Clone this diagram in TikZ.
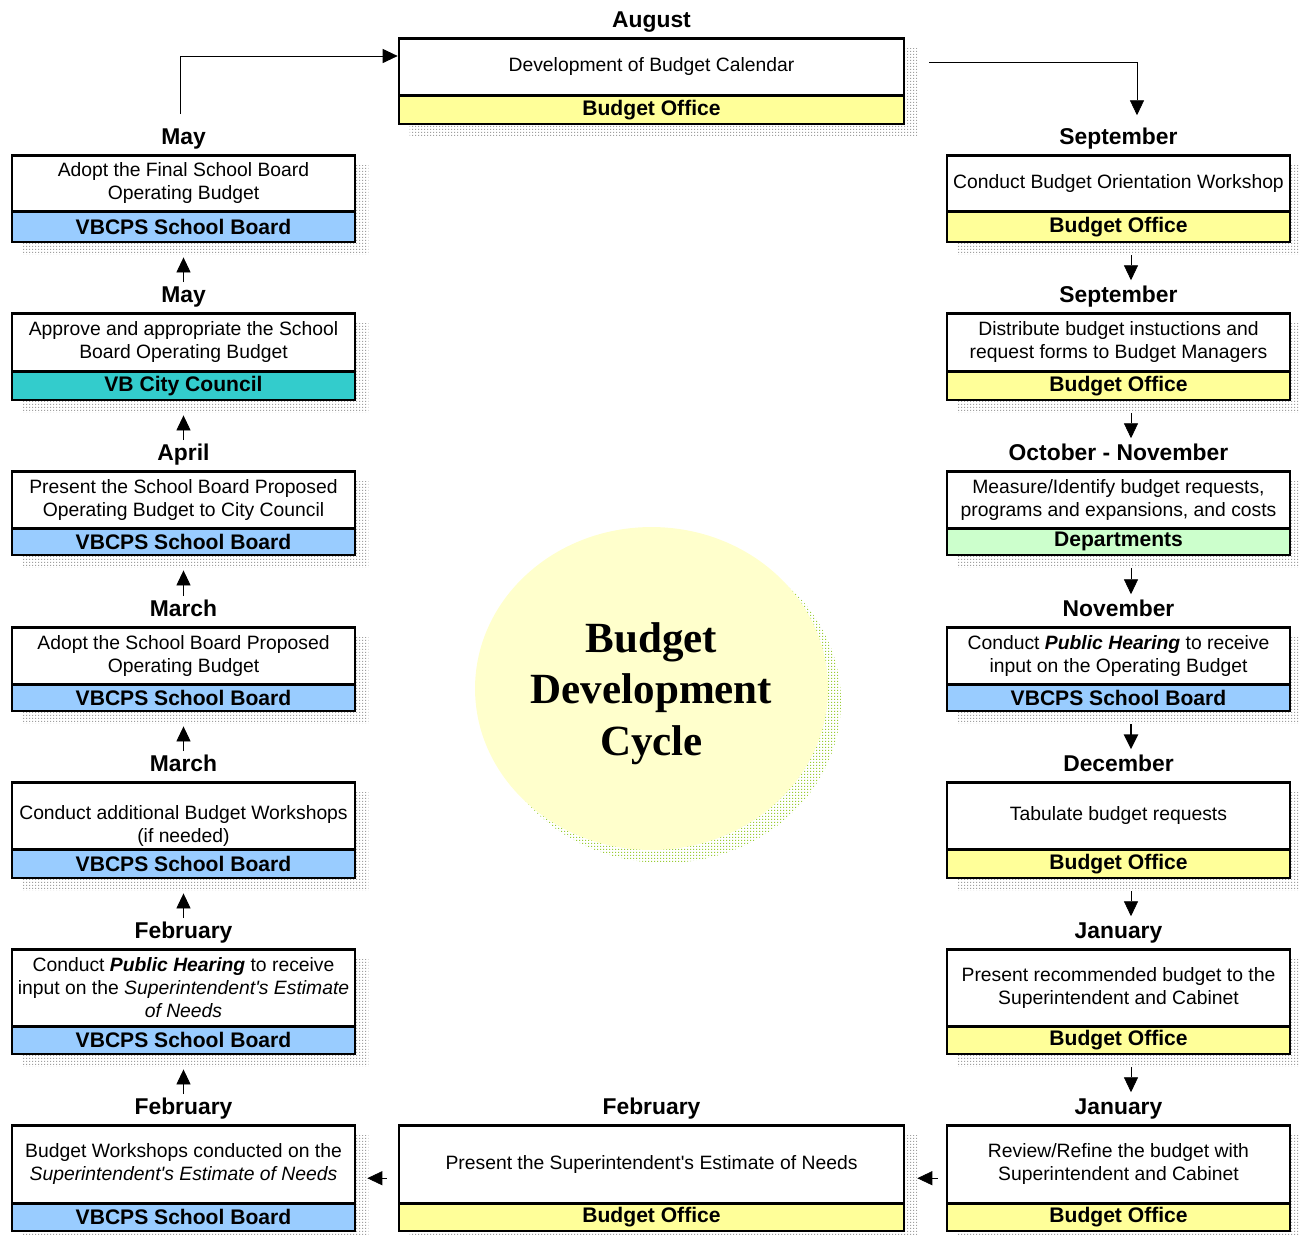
\documentclass[tikz,border=0pt]{standalone}
\usepackage{fontspec}
\setmainfont{Liberation Sans}
\newfontfamily\titlefont{Liberation Serif}
\usepackage{tikz}
\usetikzlibrary{shapes,shapes.multipart,shapes.geometric,arrows.meta,positioning,patterns}

\definecolor{officeyellow}{RGB}{255,255,153}
\definecolor{boardblue}{RGB}{153,204,255}
\definecolor{councilteal}{RGB}{51,204,204}
\definecolor{deptgreen}{RGB}{204,255,204}
\definecolor{hubcream}{RGB}{255,255,204}
\definecolor{hubdots}{RGB}{153,204,51}

% fine dot raster for the drop shadows
\pgfdeclarepatternformonly{finedots}{\pgfqpoint{0pt}{0pt}}{\pgfqpoint{1.7pt}{1.7pt}}{\pgfqpoint{1.7pt}{1.7pt}}%
{\pgfpathrectangle{\pgfqpoint{0pt}{0pt}}{\pgfqpoint{0.6pt}{0.6pt}}\pgfusepath{fill}}

\pgfdeclarelayer{background}
\pgfsetlayers{background,main}

% one part of a box: fixed width and height, centred text
\newcommand{\boxcell}[3]{\parbox[c][#2][c]{#1}{\centering #3}}
\newcommand{\bandtext}[1]{{\fontsize{12}{14}\selectfont\bfseries #1}}
\newlength{\sidew}\setlength{\sidew}{6.86cm}
\newlength{\midw}\setlength{\midw}{10.1cm}

\begin{document}
\begin{tikzpicture}[->, >={Triangle[width=8pt,length=8.5pt]}, line width=1.1pt, x=0.02cm, y=-0.02cm]

\tikzstyle{stepbox}=[
    rectangle split,
    rectangle split parts=2,
    draw=black,
    line width=1.6pt,
    inner sep=0pt,
    anchor=north,
    font=\fontsize{11}{13}\selectfont
]
\tikzstyle{office}=[rectangle split part fill={white,officeyellow}]
\tikzstyle{board}=[rectangle split part fill={white,boardblue}]
\tikzstyle{council}=[rectangle split part fill={white,councilteal}]
\tikzstyle{depts}=[rectangle split part fill={white,deptgreen}]
\tikzstyle{month}=[inner sep=0pt, text height=9.3pt, text depth=0pt, font=\fontsize{13}{15}\selectfont\bfseries]
\tikzstyle{hub}=[ellipse, fill=hubcream, minimum width=7.06cm, minimum height=6.46cm, inner sep=0pt]
\tikzstyle{hubtext}=[align=center, inner sep=0pt, font=\titlefont\fontsize{24.5}{29.2}\selectfont\bfseries]
\tikzstyle{dotshadow}=[pattern=finedots, pattern color=gray!75]
\tikzstyle{hubshadow}=[pattern=finedots, pattern color=hubdots]
\tikzstyle{flowdown}=[shorten <=0.24cm, shorten >=0.1cm]
\tikzstyle{flowup}=[shorten <=0.06cm, shorten >=0.28cm]

\useasboundingbox (0,0) rectangle (1299,1235);

% centre
\node[hub] (Hub) at (651.5,688.5) {};
\node[hubtext] (Title) at ([yshift=-0.1cm]Hub.center) {Budget\\Development\\Cycle};

% top
\node[stepbox, office] (Aug) at (651.5,37)
    {\boxcell{\midw}{1.08cm}{Development of Budget Calendar}
     \nodepart{two}\boxcell{\midw}{0.52cm}{\bandtext{Budget Office}}};

% right column
\node[stepbox, office] (Sep_1) at (1118.5,154)
    {\boxcell{\sidew}{1.06cm}{Conduct Budget Orientation Workshop}
     \nodepart{two}\boxcell{\sidew}{0.56cm}{\bandtext{Budget Office}}};
\node[stepbox, office] (Sep_2) at (1118.5,312)
    {\boxcell{\sidew}{1.1cm}{Distribute budget instuctions and\\request forms to Budget Managers}
     \nodepart{two}\boxcell{\sidew}{0.52cm}{\bandtext{Budget Office}}};
\node[stepbox, depts] (Oct) at (1118.5,470)
    {\boxcell{\sidew}{1.08cm}{Measure/Identify budget requests,\\programs and expansions, and costs}
     \nodepart{two}\boxcell{\sidew}{0.48cm}{\bandtext{Departments}}};
\node[stepbox, board] (Nov) at (1118.5,626)
    {\boxcell{\sidew}{1.08cm}{Conduct \textbf{\textit{Public Hearing}} to receive\\input on the Operating Budget}
     \nodepart{two}\boxcell{\sidew}{0.48cm}{\bandtext{VBCPS School Board}}};
\node[stepbox, office] (Dec) at (1118.5,781)
    {\boxcell{\sidew}{1.28cm}{Tabulate budget requests}
     \nodepart{two}\boxcell{\sidew}{0.52cm}{\bandtext{Budget Office}}};
\node[stepbox, office] (Jan_1) at (1118.5,948)
    {\boxcell{\sidew}{1.48cm}{Present recommended budget to the\\Superintendent and Cabinet}
     \nodepart{two}\boxcell{\sidew}{0.5cm}{\bandtext{Budget Office}}};
\node[stepbox, office] (Jan_2) at (1118.5,1124)
    {\boxcell{\sidew}{1.5cm}{Review/Refine the budget with\\Superintendent and Cabinet}
     \nodepart{two}\boxcell{\sidew}{0.5cm}{\bandtext{Budget Office}}};

% bottom
\node[stepbox, office] (Feb_0) at (651.5,1124)
    {\boxcell{\midw}{1.5cm}{Present the Superintendent\textquotesingle s Estimate of Needs}
     \nodepart{two}\boxcell{\midw}{0.5cm}{\bandtext{Budget Office}}};

% left column
\node[stepbox, board] (Feb_1) at (183.5,1124)
    {\boxcell{\sidew}{1.5cm}{Budget Workshops conducted on the\\\textit{Superintendent\textquotesingle s Estimate of Needs}}
     \nodepart{two}\boxcell{\sidew}{0.5cm}{\bandtext{VBCPS School Board}}};
\node[stepbox, board] (Feb_2) at (183.5,948)
    {\boxcell{\sidew}{1.48cm}{Conduct \textbf{\textit{Public Hearing}} to receive\\input on the \textit{Superintendent\textquotesingle s Estimate}\\\textit{of Needs}}
     \nodepart{two}\boxcell{\sidew}{0.5cm}{\bandtext{VBCPS School Board}}};
\node[stepbox, board] (Mar_1) at (183.5,781)
    {\boxcell{\sidew}{1.28cm}{\vspace*{0.4cm}Conduct additional Budget Workshops\\(if needed)}
     \nodepart{two}\boxcell{\sidew}{0.52cm}{\bandtext{VBCPS School Board}}};
\node[stepbox, board] (Mar_2) at (183.5,626)
    {\boxcell{\sidew}{1.08cm}{Adopt the School Board Proposed\\Operating Budget}
     \nodepart{two}\boxcell{\sidew}{0.48cm}{\bandtext{VBCPS School Board}}};
\node[stepbox, board] (Apr) at (183.5,470)
    {\boxcell{\sidew}{1.08cm}{Present the School Board Proposed\\Operating Budget to City Council}
     \nodepart{two}\boxcell{\sidew}{0.48cm}{\bandtext{VBCPS School Board}}};
\node[stepbox, council] (May_1) at (183.5,312)
    {\boxcell{\sidew}{1.1cm}{Approve and appropriate the School\\Board Operating Budget}
     \nodepart{two}\boxcell{\sidew}{0.52cm}{\bandtext{VB City Council}}};
\node[stepbox, board] (May_2) at (183.5,154)
    {\boxcell{\sidew}{1.06cm}{Adopt the Final School Board\\Operating Budget}
     \nodepart{two}\boxcell{\sidew}{0.56cm}{\bandtext{VBCPS School Board}}};

% month headings
\node[month, above=0.17cm of Aug] (Aug_m) {August};
\node[month, above=0.17cm of Sep_1] (Sep_1_m) {September};
\node[month, above=0.17cm of Sep_2] (Sep_2_m) {September};
\node[month, above=0.17cm of Oct] (Oct_m) {October - November};
\node[month, above=0.17cm of Nov] (Nov_m) {November};
\node[month, above=0.17cm of Dec] (Dec_m) {December};
\node[month, above=0.17cm of Jan_1] (Jan_1_m) {January};
\node[month, above=0.17cm of Jan_2] (Jan_2_m) {January};
\node[month, above=0.17cm of Feb_0] (Feb_0_m) {February};
\node[month, above=0.17cm of Feb_1] (Feb_1_m) {February};
\node[month, above=0.17cm of Feb_2] (Feb_2_m) {February};
\node[month, above=0.17cm of Mar_1] (Mar_1_m) {March};
\node[month, above=0.17cm of Mar_2] (Mar_2_m) {March};
\node[month, above=0.17cm of Apr] (Apr_m) {April};
\node[month, above=0.17cm of May_1] (May_1_m) {May};
\node[month, above=0.17cm of May_2] (May_2_m) {May};

% shadows behind everything
\begin{pgfonlayer}{background}
\foreach \nd in {Aug,Sep_1,Sep_2,Oct,Nov,Dec,Jan_1,Jan_2,Feb_0,Feb_1,Feb_2,Mar_1,Mar_2,Apr,May_1,May_2}
    \fill[dotshadow] ([shift={(0.24cm,-0.22cm)}]\nd.north west) rectangle ([shift={(0.24cm,-0.22cm)}]\nd.south east);
\fill[hubshadow] ([shift={(0.26cm,-0.26cm)}]Hub.center) ellipse [x radius=3.53cm, y radius=3.23cm];
\end{pgfonlayer}

% the cycle
\draw[shorten >=0.24cm] ([shift={(0.48cm,-0.5cm)}]Aug.north east) -| ([xshift=0.37cm]Sep_1_m.north);
\draw[shorten <=0.26cm] ([xshift=-0.07cm]May_2_m.north) |- ([yshift=-0.38cm]Aug.north west);

\path
([xshift=0.25cm]Sep_1.south) edge[flowdown] ([xshift=0.25cm]Sep_2_m.north)
([xshift=0.25cm]Sep_2.south) edge[flowdown] ([xshift=0.25cm]Oct_m.north)
([xshift=0.25cm]Oct.south) edge[flowdown] ([xshift=0.25cm]Nov_m.north)
([xshift=0.25cm]Nov.south) edge[flowdown, line width=1.6pt] ([xshift=0.25cm]Dec_m.north)
([xshift=0.25cm]Dec.south) edge[flowdown] ([xshift=0.25cm]Jan_1_m.north)
([xshift=0.25cm]Jan_1.south) edge[flowdown] ([xshift=0.25cm]Jan_2_m.north)
(Jan_2.west) edge[shorten <=0.16cm, shorten >=0.24cm] (Feb_0.east)
(Feb_0.west) edge[shorten <=0.22cm, shorten >=0.22cm] (Feb_1.east)
(Feb_1_m.north) edge[flowup] (Feb_2.south)
(Feb_2_m.north) edge[flowup] (Mar_1.south)
(Mar_1_m.north) edge[flowup] (Mar_2.south)
(Mar_2_m.north) edge[flowup] (Apr.south)
(Apr_m.north) edge[flowup] (May_1.south)
(May_1_m.north) edge[flowup] (May_2.south);

\end{tikzpicture}
\end{document}
